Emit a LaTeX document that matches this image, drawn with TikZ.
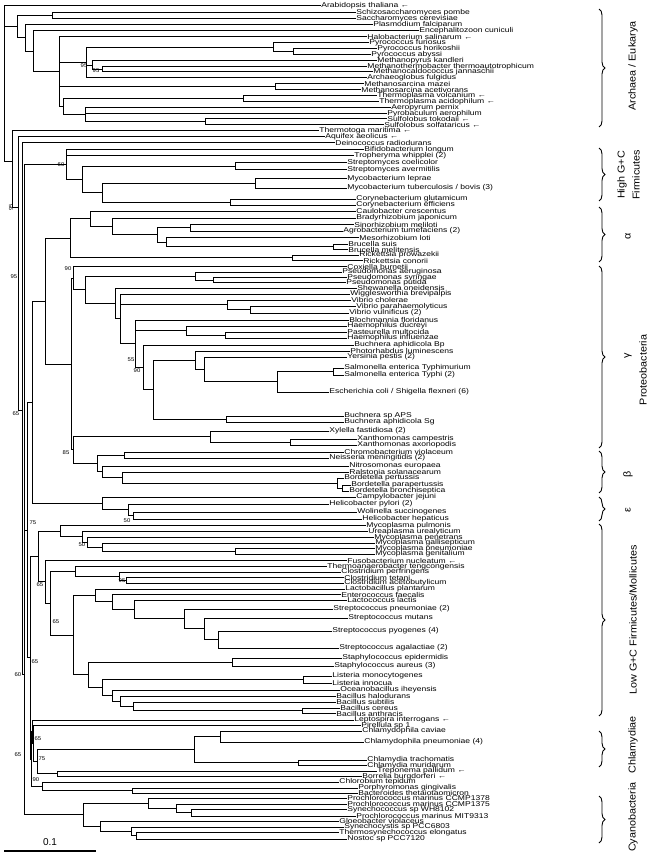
\documentclass[tikz,border=0pt]{standalone}
\usepackage{fontspec}
\usepackage{graphicx}
\newfontfamily\labf{Liberation Sans}
\usetikzlibrary{decorations.pathreplacing,calc}
\newcommand\lt[1]{\scalebox{1.22}[1]{#1}}
\newcommand\gt[1]{\scalebox{1.08}[1]{#1}}
\newcommand\mkclade[4][]{%
  \foreach \ch [count=\ci] in {#4}{\ifnum\ci=1 \global\let\clf\ch\fi \global\let\cll\ch}%
  \if\relax\detokenize{#1}\relax
    \path let \p1=(\clf), \p2=(\cll) in coordinate (#2) at (#3pt,{0.5*(\y1+\y2)});
  \else
    \coordinate (#2) at (#3pt,-#1pt);
  \fi
  \draw[br] let \p1=(\clf), \p2=(\cll) in (#3pt,\y1) -- (#3pt,\y2);
  \foreach \ch in {#4}{\draw[br] let \p3=(\ch) in (#3pt,\y3) -- (\ch);}%
}
\begin{document}
\begin{tikzpicture}[x=1pt,y=-1pt,
  br/.style={line width=1pt,line cap=rect},
  leaf/.style={anchor=west,inner xsep=1.2pt,inner ysep=0pt,font=\labf\fontsize{7}{7}\selectfont},
  bs/.style={inner sep=0pt,font=\labf\fontsize{5.5}{5.5}\selectfont},
  grp/.style={rotate=90,inner sep=0pt,font=\labf\fontsize{10}{11}\selectfont},
  brc/.style={decorate,decoration={brace,amplitude=6pt},line width=0.9pt}]
\useasboundingbox (0,0) rectangle (656,853);
% ---------------- leaves ----------------
\node[leaf] (arab) at (320,6) {\lt{Arabidopsis thaliana ←}};
\node[leaf] (spom) at (355,12.5) {\lt{Schizosaccharomyces pombe}};
\node[leaf] (scer) at (355,18.5) {\lt{Saccharomyces cerevisiae}};
\node[leaf] (pfal) at (372,24.5) {\lt{Plasmodium falciparum}};
\node[leaf] (ecun) at (418,31) {\lt{Encephalitozoon cuniculi}};
\node[leaf] (hsal) at (366,37) {\lt{Halobacterium salinarum ←}};
\node[leaf] (pfur) at (368,43) {\lt{Pyrococcus furiosus}};
\node[leaf] (phor) at (376,49) {\lt{Pyrococcus horikoshii}};
\node[leaf] (paby) at (370,55) {\lt{Pyrococcus abyssi}};
\node[leaf] (mkan) at (376,61) {\lt{Methanopyrus kandleri}};
\node[leaf] (mthe) at (366,66.5) {\lt{Methanothermobacter thermoautotrophicum}};
\node[leaf] (mjan) at (372,72) {\lt{Methanocaldococcus jannaschii}};
\node[leaf] (aful) at (366,78) {\lt{Archaeoglobus fulgidus}};
\node[leaf] (mmaz) at (363,84) {\lt{Methanosarcina mazei}};
\node[leaf] (mace) at (360,89.5) {\lt{Methanosarcina acetivorans}};
\node[leaf] (tvol) at (376,95.5) {\lt{Thermoplasma volcanium ←}};
\node[leaf] (taci) at (378,101.5) {\lt{Thermoplasma acidophilum ←}};
\node[leaf] (aper) at (390,107.5) {\lt{Aeropyrum pernix}};
\node[leaf] (pyae) at (386,113.5) {\lt{Pyrobaculum aerophilum}};
\node[leaf] (stok) at (386,119) {\lt{Sulfolobus tokodaii ←}};
\node[leaf] (ssol) at (383,125) {\lt{Sulfolobus solfataricus ←}};
\node[leaf] (tmar) at (318,131) {\lt{Thermotoga maritima ←}};
\node[leaf] (aaeo) at (324,137) {\lt{Aquifex aeolicus ←}};
\node[leaf] (drad) at (334,143) {\lt{Deinococcus radiodurans}};
\node[leaf] (blon) at (363,150) {\lt{Bifidobacterium longum}};
\node[leaf] (twhi) at (353,156) {\lt{Tropheryma whipplei (2)}};
\node[leaf] (scoe) at (346,163) {\lt{Streptomyces coelicolor}};
\node[leaf] (save) at (346,170) {\lt{Streptomyces avermitilis}};
\node[leaf] (mlep) at (346,179) {\lt{Mycobacterium leprae}};
\node[leaf] (mtub) at (346,188) {\lt{Mycobacterium tuberculosis / bovis (3)}};
\node[leaf] (cglu) at (355,199) {\lt{Corynebacterium glutamicum}};
\node[leaf] (ceff) at (355,205) {\lt{Corynebacterium efficiens}};
\node[leaf] (ccre) at (355,211) {\lt{Caulobacter crescentus}};
\node[leaf] (bjap) at (355,218) {\lt{Bradyrhizobium japonicum}};
\node[leaf] (smel) at (353,224.5) {\lt{Sinorhizobium meliloti}};
\node[leaf] (atum) at (342,231) {\lt{Agrobacterium tumefaciens (2)}};
\node[leaf] (mlot) at (358,237.5) {\lt{Mesorhizobium loti}};
\node[leaf] (bsui) at (347,244) {\lt{Brucella suis}};
\node[leaf] (bmel) at (347,249.5) {\lt{Brucella melitensis}};
\node[leaf] (rpro) at (358,255) {\lt{Rickettsia prowazekii}};
\node[leaf] (rcon) at (362,260.5) {\lt{Rickettsia conorii}};
\node[leaf] (cbur) at (346,266.5) {\lt{Coxiella burnetii}};
\node[leaf] (paer) at (341,272) {\lt{Pseudomonas aeruginosa}};
\node[leaf] (psyr) at (346,277.5) {\lt{Pseudomonas syringae}};
\node[leaf] (pput) at (345,282.5) {\lt{Pseudomonas putida}};
\node[leaf] (shew) at (356,288) {\lt{Shewanella oneidensis}};
\node[leaf] (wigg) at (349,294) {\lt{Wigglesworthia brevipalpis}};
\node[leaf] (vcho) at (350,300) {\lt{Vibrio cholerae}};
\node[leaf] (vpar) at (355,306.5) {\lt{Vibrio parahaemolyticus}};
\node[leaf] (vvul) at (348,313) {\lt{Vibrio vulnificus (2)}};
\node[leaf] (bloc) at (348,320) {\lt{Blochmannia floridanus}};
\node[leaf] (hduc) at (346,326) {\lt{Haemophilus ducreyi}};
\node[leaf] (pmul) at (346,332) {\lt{Pasteurella multocida}};
\node[leaf] (hinf) at (346,338) {\lt{Haemophilus influenzae}};
\node[leaf] (bubp) at (353,345) {\lt{Buchnera aphidicola Bp}};
\node[leaf] (plum) at (349,351) {\lt{Photorhabdus luminescens}};
\node[leaf] (ypes) at (346,357) {\lt{Yersinia pestis (2)}};
\node[leaf] (stym) at (343,368) {\lt{Salmonella enterica Typhimurium}};
\node[leaf] (styi) at (343,375) {\lt{Salmonella enterica Typhi (2)}};
\node[leaf] (ecol) at (328,392) {\lt{Escherichia coli / Shigella flexneri (6)}};
\node[leaf] (buap) at (343,416) {\lt{Buchnera sp APS}};
\node[leaf] (busg) at (343,422) {\lt{Buchnera aphidicola Sg}};
\node[leaf] (xfas) at (328,431) {\lt{Xylella fastidiosa (2)}};
\node[leaf] (xcam) at (356,439) {\lt{Xanthomonas campestris}};
\node[leaf] (xaxo) at (356,445) {\lt{Xanthomonas axonopodis}};
\node[leaf] (cvio) at (343,452) {\lt{Chromobacterium violaceum}};
\node[leaf] (nmen) at (328,458) {\lt{Neisseria meningitidis (2)}};
\node[leaf] (neur) at (348,466) {\lt{Nitrosomonas europaea}};
\node[leaf] (rsol) at (348,472) {\lt{Ralstonia solanacearum}};
\node[leaf] (bper) at (343,478) {\lt{Bordetella pertussis}};
\node[leaf] (bpar) at (350,485) {\lt{Bordetella parapertussis}};
\node[leaf] (bbro) at (348,491) {\lt{Bordetella bronchiseptica}};
\node[leaf] (cjej) at (355,497) {\lt{Campylobacter jejuni}};
\node[leaf] (hpyl) at (328,504) {\lt{Helicobacter pylori (2)}};
\node[leaf] (wsuc) at (356,512) {\lt{Wolinella succinogenes}};
\node[leaf] (hhep) at (361,519) {\lt{Helicobacter hepaticus}};
\node[leaf] (mpul) at (365,525.5) {\lt{Mycoplasma pulmonis}};
\node[leaf] (uure) at (367,531.5) {\lt{Ureaplasma urealyticum}};
\node[leaf] (mpen) at (373,537.5) {\lt{Mycoplasma penetrans}};
\node[leaf] (mgal) at (374,543) {\lt{Mycoplasma gallisepticum}};
\node[leaf] (mpne) at (374,548.5) {\lt{Mycoplasma pneumoniae}};
\node[leaf] (mgen) at (374,554) {\lt{Mycoplasma genitalium}};
\node[leaf] (fnuc) at (346,560.5) {\lt{Fusobacterium nucleatum ←}};
\node[leaf] (tten) at (326,566.5) {\lt{Thermoanaerobacter tengcongensis}};
\node[leaf] (cper) at (340,572) {\lt{Clostridium perfringens}};
\node[leaf] (ctet) at (343,577.5) {\lt{Clostridium tetani}};
\node[leaf] (cace) at (343,583) {\lt{Clostridium acetobutylicum}};
\node[leaf] (lpla) at (344,589) {\lt{Lactobacillus plantarum}};
\node[leaf] (efae) at (340,594.5) {\lt{Enterococcus faecalis}};
\node[leaf] (llac) at (346,600) {\lt{Lactococcus lactis}};
\node[leaf] (spne) at (332,609) {\lt{Streptococcus pneumoniae (2)}};
\node[leaf] (smut) at (347,618) {\lt{Streptococcus mutans}};
\node[leaf] (spyo) at (331,631) {\lt{Streptococcus pyogenes (4)}};
\node[leaf] (saga) at (338,648) {\lt{Streptococcus agalactiae (2)}};
\node[leaf] (sepi) at (341,658) {\lt{Staphylococcus epidermidis}};
\node[leaf] (saur) at (333,666) {\lt{Staphylococcus aureus (3)}};
\node[leaf] (lmon) at (331,676) {\lt{Listeria monocytogenes}};
\node[leaf] (linn) at (331,683) {\lt{Listeria innocua}};
\node[leaf] (oihe) at (339,690) {\lt{Oceanobacillus iheyensis}};
\node[leaf] (bhal) at (335,696) {\lt{Bacillus halodurans}};
\node[leaf] (bsub) at (335,702) {\lt{Bacillus subtilis}};
\node[leaf] (bcer) at (339,708) {\lt{Bacillus cereus}};
\node[leaf] (bant) at (335,713.5) {\lt{Bacillus anthracis}};
\node[leaf] (lint) at (353,720) {\lt{Leptospira interrogans ←}};
\node[leaf] (pire) at (360,725.5) {\lt{Pirellula sp 1}};
\node[leaf] (ccav) at (361,731) {\lt{Chlamydophila caviae}};
\node[leaf] (cpne) at (363,742) {\lt{Chlamydophila pneumoniae (4)}};
\node[leaf] (ctra) at (366,760) {\lt{Chlamydia trachomatis}};
\node[leaf] (cmur) at (366,765.5) {\lt{Chlamydia muridarum}};
\node[leaf] (tpal) at (376,771) {\lt{Treponema pallidum ←}};
\node[leaf] (bbur) at (361,776.5) {\lt{Borrelia burgdorferi ←}};
\node[leaf] (ctep) at (338,782) {\lt{Chlorobium tepidum}};
\node[leaf] (pgin) at (357,788) {\lt{Porphyromonas gingivalis}};
\node[leaf] (bthe) at (357,793) {\lt{Bacteroides thetaiotaomicron}};
\node[leaf] (pm78) at (346,798) {\lt{Prochlorococcus marinus CCMP1378}};
\node[leaf] (pm75) at (346,804) {\lt{Prochlorococcus marinus CCMP1375}};
\node[leaf] (swh) at (346,809.5) {\lt{Synechococcus sp WH8102}};
\node[leaf] (pmit) at (355,816) {\lt{Prochlorococcus marinus MIT9313}};
\node[leaf] (gvio) at (338,821) {\lt{Gloeobacter violaceus}};
\node[leaf] (ssp) at (343,827) {\lt{Synechocystis sp PCC6803}};
\node[leaf] (telo) at (338,832.5) {\lt{Thermosynechococcus elongatus}};
\node[leaf] (nost) at (346,839) {\lt{Nostoc sp PCC7120}};
% ---------------- Archaea / Eukarya ----------------
\mkclade{Y}{52}{spom,scer}
\mkclade{P2}{293}{phor,paby}
\mkclade{P1}{273}{pfur,P2}
\mkclade{M2}{102}{mthe,mjan}
\mkclade{METH}{92}{mkan,M2}
\mkclade{EURY}{86}{P1,METH,aful}
\mkclade{MSAR}{275}{mmaz,mace}
\mkclade{THER}{243}{tvol,taci}
\mkclade{SULF}{205}{stok,ssol}
\mkclade{CREN}{85}{aper,pyae,SULF}
\mkclade{THCR}{63}{THER,CREN}
\mkclade{ARCH}{59}{hsal,EURY,MSAR,THCR}
\mkclade{A3}{33}{ecun,ARCH}
\mkclade{A2}{25}{pfal,A3}
\mkclade{A1}{17}{Y,A2}
% ---------------- High G+C ----------------
\mkclade{STREP}{235}{scoe,save}
\mkclade{MYCO}{255}{mlep,mtub}
\mkclade{CORY}{230}{cglu,ceff}
\mkclade{MC}{102}{MYCO,CORY}
\mkclade{HG2}{82}{STREP,MC}
\mkclade{HG1}{66}{blon,twhi,HG2}
% ---------------- alpha ----------------
\mkclade{SA}{190}{smel,atum}
\mkclade{BRU}{333}{bsui,bmel}
\mkclade{MB}{166}{mlot,BRU}
\mkclade{AL3}{157}{SA,MB}
\mkclade{AL2}{112}{bjap,AL3}
\mkclade{AL1}{90}{ccre,AL2}
\mkclade{RICK}{292}{rpro,rcon}
\mkclade{AL}{70}{AL1,RICK}
% ---------------- gamma ----------------
\mkclade{PS2}{213}{psyr,pput}
\mkclade{PSEU}{195}{paer,PS2}
\mkclade{V2}{250}{vpar,vvul}
\mkclade{VIB}{227}{vcho,V2}
\mkclade{PM}{225}{pmul,hinf}
\mkclade{PAST}{186}{hduc,PM}
\mkclade{SAL}{333}{stym,styi}
\mkclade{ENT3}{277}{SAL,ecol}
\mkclade{ENT2}{204}{ypes,ENT3}
\mkclade{ENT1}{195}{plum,ENT2}
\mkclade{BUCH}{226}{buap,busg}
\mkclade{ENT}{153}{ENT1,BUCH}
\mkclade{G6}{143}{bubp,ENT}
\mkclade{G5}{135}{bloc,PAST,G6}
\mkclade{G4}{120}{wigg,VIB,G5}
\mkclade{G3}{115}{shew,G4}
\mkclade{G2}{85}{PSEU,G3}
\mkclade{GAM}{73}{cbur,G2}
\mkclade{XC}{290}{xcam,xaxo}
\mkclade{XAN}{210}{xfas,XC}
% ---------------- beta / epsilon ----------------
\mkclade{NEIS}{124}{cvio,nmen}
\mkclade{BP2}{342}{bpar,bbro}
\mkclade{BORD}{337}{bper,BP2}
\mkclade{BE3}{122}{rsol,BORD}
\mkclade{BE2}{102}{neur,BE3}
\mkclade{BETA}{97}{NEIS,BE2}
\mkclade{GB2}{73.5}{XAN,BETA}
\mkclade{GB}{71.5}{GAM,GB2}
\mkclade{AG}{45}{AL,GB}
\mkclade{EP3}{133}{wsuc,hhep}
\mkclade{EP2}{128}{hpyl,EP3}
\mkclade{EPS}{102}{cjej,EP2}
\mkclade{PROT}{32}{AG,EPS}
% ---------------- Low G+C ----------------
\mkclade{MO5}{235}{mpne,mgen}
\mkclade{MO4}{102}{mgal,MO5}
\mkclade{MO3}{87}{mpen,MO4}
\mkclade{MO2}{82}{uure,MO3}
\mkclade{MOLL}{60}{mpul,MO2}
\mkclade{CL3}{126}{ctet,cace}
\mkclade{CL2}{119}{cper,CL3}
\mkclade{CLOS}{75}{tten,CL2}
\mkclade{ST3}{218}{spyo,saga}
\mkclade{ST2}{204}{smut,ST3}
\mkclade{STRE}{184}{spne,ST2}
\mkclade{LA3}{134}{llac,STRE}
\mkclade{LA2}{112}{efae,LA3}
\mkclade{LA1}{95}{lpla,LA2}
\mkclade{STAPH}{232}{sepi,saur}
\mkclade{LIST}{303}{lmon,linn}
\mkclade{BCA}{302}{bcer,bant}
\mkclade{BAC4}{133}{bsub,BCA}
\mkclade{BAC3}{120}{bhal,BAC4}
\mkclade{BAC2}{112}{oihe,BAC3}
\mkclade{BAC1}{102}{LIST,BAC2}
\mkclade{SB}{88}{STAPH,BAC1}
\mkclade{LACT2}{73}{LA1,SB}
\mkclade{LG3}{50}{CLOS,LACT2}
\mkclade{LG2}{45}{fnuc,LG3}
\mkclade{LG}{38}{MOLL,LG2}
% ---------------- bottom groups ----------------
\mkclade{CPH}{220}{ccav,cpne}
\mkclade{CTR}{298}{ctra,cmur}
\mkclade{CHL}{194}{CPH,CTR}
\mkclade{SPIR}{57}{tpal,bbur}
\mkclade{N3}{37}{CHL,SPIR}
\mkclade{N2}{33.5}{pire,N3}
\mkclade{N1}{32}{lint,N2}
\mkclade{BACT}{132}{pgin,bthe}
\mkclade{CFB}{42}{ctep,BACT}
\mkclade{BOT}{31}{N1,CFB}
\mkclade{CY3}{191}{swh,pmit}
\mkclade{CY2}{176}{pm75,CY3}
\mkclade{CY1}{148}{pm78,CY2}
\mkclade{CY6}{136}{telo,nost}
\mkclade{CY5}{131}{ssp,CY6}
\mkclade{CY4}{100}{gvio,CY5}
\mkclade{CYAN}{83}{CY1,CY4}
% ---------------- backbone ----------------
\mkclade{B6}{30}{LG,BOT}
\mkclade{B5}{27.5}{PROT,B6}
\mkclade[674]{B4}{24.5}{HG1,B5,CYAN}
\mkclade[410]{B3}{22}{drad,B4}
\mkclade[207]{B2}{18.5}{aaeo,B3}
\mkclade[161.5]{B1}{12.7}{tmar,B2}
\mkclade{ROOT}{4.8}{arab,A1,B1}
% ---------------- bootstrap values ----------------
\node[bs] (bs1) at (84,66) {\gt{95}};
\node[bs] (bs2) at (96,70.5) {\gt{95}};
\node[bs] (bs3) at (61,165) {\gt{60}};
\node[bs,rotate=90] (bs4) at (11,207) {\gt{95}};
\node[bs] (bs5) at (14,277) {\gt{95}};
\node[bs] (bs6) at (68,269) {\gt{90}};
\node[bs] (bs7) at (16,414) {\gt{65}};
\node[bs] (bs8) at (131,360) {\gt{55}};
\node[bs] (bs9) at (137,371) {\gt{90}};
\node[bs] (bs10) at (66,453) {\gt{85}};
\node[bs] (bs11) at (127,521) {\gt{50}};
\node[bs] (bs12) at (33,523) {\gt{75}};
\node[bs] (bs13) at (82,545) {\gt{50}};
\node[bs] (bs14) at (122,581) {\gt{95}};
\node[bs] (bs15) at (40,585) {\gt{65}};
\node[bs] (bs16) at (56,622) {\gt{65}};
\node[bs] (bs17) at (35,662) {\gt{65}};
\node[bs] (bs18) at (18,675) {\gt{60}};
\node[bs] (bs19) at (38,739) {\gt{65}};
\node[bs] (bs20) at (18,755) {\gt{65}};
\node[bs] (bs21) at (42,759) {\gt{75}};
\node[bs] (bs22) at (36,780) {\gt{90}};
% ---------------- group braces and labels ----------------
\coordinate (b1t) at (599,9);   \coordinate (b1b) at (599,127);
\coordinate (b2t) at (599,148); \coordinate (b2b) at (599,201);
\coordinate (b3t) at (599,207); \coordinate (b3b) at (599,262);
\coordinate (b4t) at (599,266); \coordinate (b4b) at (599,448);
\coordinate (b5t) at (599,451); \coordinate (b5b) at (599,493);
\coordinate (b6t) at (599,497); \coordinate (b6b) at (599,521);
\coordinate (b7t) at (599,524); \coordinate (b7b) at (599,716);
\coordinate (b8t) at (599,731); \coordinate (b8b) at (599,767);
\coordinate (b9t) at (599,796); \coordinate (b9b) at (599,843);
\draw[brc] (b1t) -- (b1b);
\draw[brc] (b2t) -- (b2b);
\draw[brc] (b3t) -- (b3b);
\draw[brc] (b4t) -- (b4b);
\draw[brc] (b5t) -- (b5b);
\draw[brc] (b6t) -- (b6b);
\draw[brc] (b7t) -- (b7b);
\draw[brc] (b8t) -- (b8b);
\draw[brc] (b9t) -- (b9b);
\node[grp] (gAE) at (633,66) {\gt{Archaea / Eukarya}};
\node[grp] (gHG1) at (622,175) {\gt{High G+C}};
\node[grp] (gHG2) at (636,175) {\gt{Firmicutes}};
\node[grp] (gal) at (628,236) {\gt{α}};
\node[grp] (gga) at (628,356) {\gt{γ}};
\node[grp] (gPr) at (643,370) {\gt{Proteobacteria}};
\node[grp] (gbe) at (628,474) {\gt{β}};
\node[grp] (gep) at (628,510) {\gt{ε}};
\node[grp] (gLG) at (633,620) {\gt{Low G+C Firmicutes/Mollicutes}};
\node[grp] (gCh) at (633,745) {\gt{Chlamydiae}};
\node[grp] (gCy) at (633,817) {\gt{Cyanobacteria}};
% ---------------- scale bar ----------------
\coordinate (sbA) at (4,851);
\coordinate (sbB) at (96,851);
\draw[line width=1.1pt] (sbA) -- (sbB);
\node[inner sep=0pt,font=\labf\fontsize{10}{10}\selectfont] (sbl) at (50,842) {0.1};
\end{tikzpicture}
\end{document}
